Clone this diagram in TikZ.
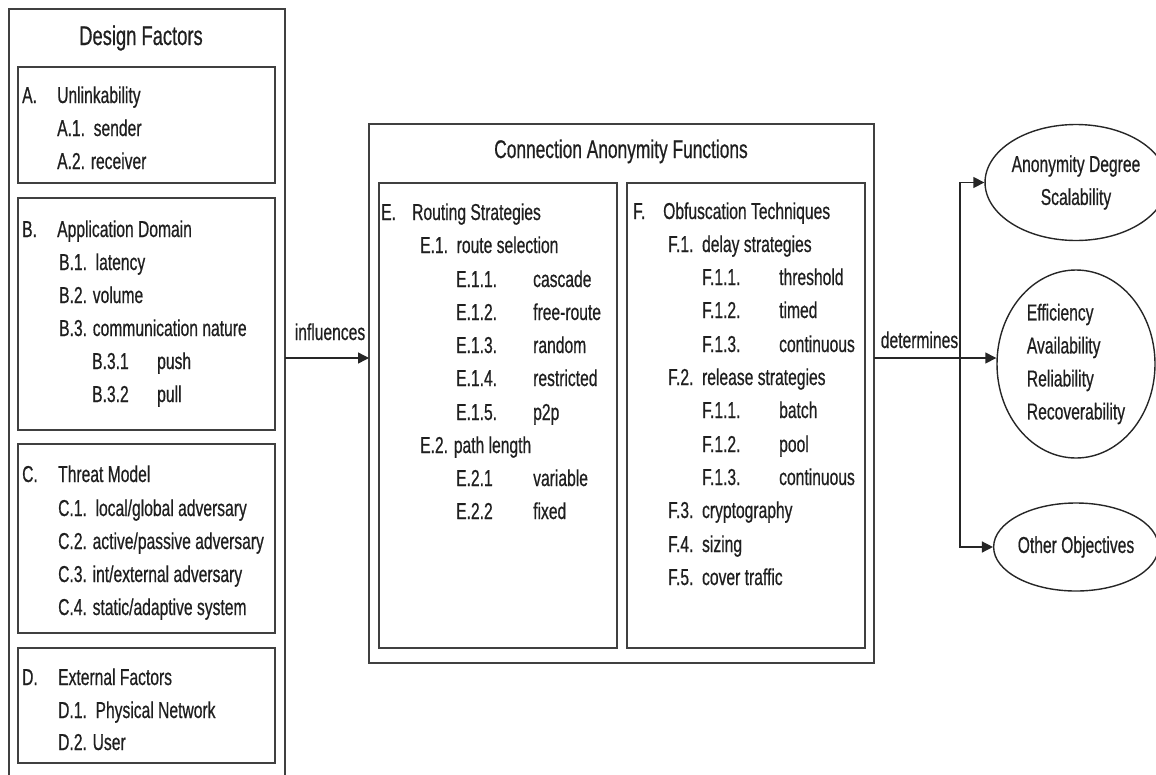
\documentclass[tikz,border=0pt]{standalone}
\usepackage{fontspec}
\setmainfont{Liberation Sans}[FakeStretch=0.68,FakeBold=0.6]
\usetikzlibrary{arrows.meta,shapes.geometric}
\begin{document}
\begin{tikzpicture}[x=1pt,y=-1pt,
  box/.style={draw=black!75, line width=1.4pt, inner sep=0pt, outer sep=0pt, anchor=north west},
  t/.style={anchor=base west, inner sep=0pt, font=\fontsize{23}{25}\selectfont, text=black!88},
  ttl/.style={anchor=base, inner sep=0pt, font=\fontsize{25.5}{28}\selectfont, text=black!88},
  lbl/.style={anchor=base, inner sep=0pt, font=\fontsize{23}{25}\selectfont, text=black!88},
  obj/.style={draw=black!85, line width=1.4pt, ellipse, inner sep=0pt, minimum width=158pt,
              font=\fontsize{23}{33}\selectfont, text=black!88},
  conn/.style={draw=black!85, line width=1.4pt},
  arr/.style={conn, -{Triangle[length=11pt,width=11pt]}}]
\useasboundingbox (0,0) rectangle (1156,774);

% ---------- Design Factors ----------
\draw[draw=black!75, line width=1.4pt] (9,790) -- (9,9) -- (285,9) -- (285,790);
\node[ttl, font=\fontsize{27}{28}\selectfont] (dft) at (141,45) {Design Factors};

\node[box, minimum width=257pt, minimum height=116pt] (boxA) at (18,67) {};
\node[t] (a0) at (22,103) {A.};
\node[t] (a1) at (57,103) {Unlinkability};
\node[t] (a2) at (57,136) {A.1.\ \ sender};
\node[t] (a3) at (57,169) {A.2. receiver};

\node[box, minimum width=257pt, minimum height=232pt] (boxB) at (18,198) {};
\node[t] (b0) at (22,237) {B.};
\node[t] (b1) at (57,237) {Application Domain};
\node[t] (b2) at (59,270) {B.1.\ \ latency};
\node[t] (b3) at (59,303) {B.2. volume};
\node[t] (b4) at (59,336) {B.3. communication nature};
\node[t] (b5) at (92,369) {B.3.1};
\node[t] (b6) at (157,369) {push};
\node[t] (b7) at (92,402) {B.3.2};
\node[t] (b8) at (157,402) {pull};

\node[box, minimum width=257pt, minimum height=189pt] (boxC) at (18,444) {};
\node[t] (c0) at (22,482) {C.};
\node[t] (c1) at (58,482) {Threat Model};
\node[t] (c2) at (58,516) {C.1.\ \ local/global adversary};
\node[t] (c3) at (58,549) {C.2. active/passive adversary};
\node[t] (c4) at (58,582) {C.3. int/external adversary};
\node[t] (c5) at (58,615) {C.4. static/adaptive system};

\node[box, minimum width=257pt, minimum height=115pt] (boxD) at (18,648) {};
\node[t] (d0) at (22,685) {D.};
\node[t] (d1) at (58,685) {External Factors};
\node[t] (d2) at (58,718) {D.1.\ \ Physical Network};
\node[t] (d3) at (58,750) {D.2. User};

% ---------- Connection Anonymity Functions ----------
\node[box, minimum width=505pt, minimum height=539pt] (caf) at (369,124) {};
\node[ttl] (caft) at (621,158) {Connection Anonymity Functions};

\node[box, minimum width=238pt, minimum height=465pt] (boxE) at (379,183) {};
\node[t] (e0) at (381,220) {E.};
\node[t] (e1) at (412,220) {Routing Strategies};
\node[t] (e2) at (420,253) {E.1.\ \ route selection};
\node[t] (e3) at (456,287) {E.1.1.};   \node[t] (e3b) at (533,287) {cascade};
\node[t] (e4) at (456,320) {E.1.2.};   \node[t] (e4b) at (533,320) {free-route};
\node[t] (e5) at (456,353) {E.1.3.};   \node[t] (e5b) at (533,353) {random};
\node[t] (e6) at (456,386) {E.1.4.};   \node[t] (e6b) at (533,386) {restricted};
\node[t] (e7) at (456,420) {E.1.5.};   \node[t] (e7b) at (533,420) {p2p};
\node[t] (e8) at (420,453) {E.2. path length};
\node[t] (e9) at (456,486) {E.2.1};    \node[t] (e9b) at (533,486) {variable};
\node[t] (e10) at (456,519) {E.2.2};   \node[t] (e10b) at (533,519) {fixed};

\node[box, minimum width=238pt, minimum height=465pt] (boxF) at (627,183) {};
\node[t] (f0) at (633,219) {F.};
\node[t] (f1) at (663,219) {Obfuscation Techniques};
\node[t] (f2) at (668,252) {F.1.\ \ delay strategies};
\node[t] (f3) at (702,285) {F.1.1.};   \node[t] (f3b) at (779,285) {threshold};
\node[t] (f4) at (702,318) {F.1.2.};   \node[t] (f4b) at (779,318) {timed};
\node[t] (f5) at (702,352) {F.1.3.};   \node[t] (f5b) at (779,352) {continuous};
\node[t] (f6) at (668,385) {F.2.\ \ release strategies};
\node[t] (f7) at (702,418) {F.1.1.};   \node[t] (f7b) at (779,418) {batch};
\node[t] (f8) at (702,452) {F.1.2.};   \node[t] (f8b) at (779,452) {pool};
\node[t] (f9) at (702,485) {F.1.3.};   \node[t] (f9b) at (779,485) {continuous};
\node[t] (f10) at (668,518) {F.3.\ \ cryptography};
\node[t] (f11) at (668,552) {F.4.\ \ sizing};
\node[t] (f12) at (668,585) {F.5.\ \ cover traffic};

% ---------- Objectives ----------
\node[obj, minimum height=116pt, align=center] (o1) at (1076,182.5) {Anonymity Degree\\Scalability};
\node[obj, minimum height=188pt, align=left] (o2) at (1076,364) {Efficiency\\Availability\\Reliability\\Recoverability};
\node[obj, minimum height=88pt, align=center] (o3) at (1076,547) {Other Objectives};

% ---------- Connectors ----------
\coordinate (inf) at (285,358);
\draw[arr] (inf) -- (caf.west |- inf);
\node[lbl] (infl) at (330,340) {influences};

\coordinate (br) at (960,358);
\draw[conn] (caf.east |- br) -- (br);
\draw[arr] (br) -- (o2.west |- br);
\draw[arr] (br) |- (o1.west);
\draw[arr] (br) |- (o3.west);
\node[lbl] (detl) at (919.5,348) {determines};
\end{tikzpicture}
\end{document}
